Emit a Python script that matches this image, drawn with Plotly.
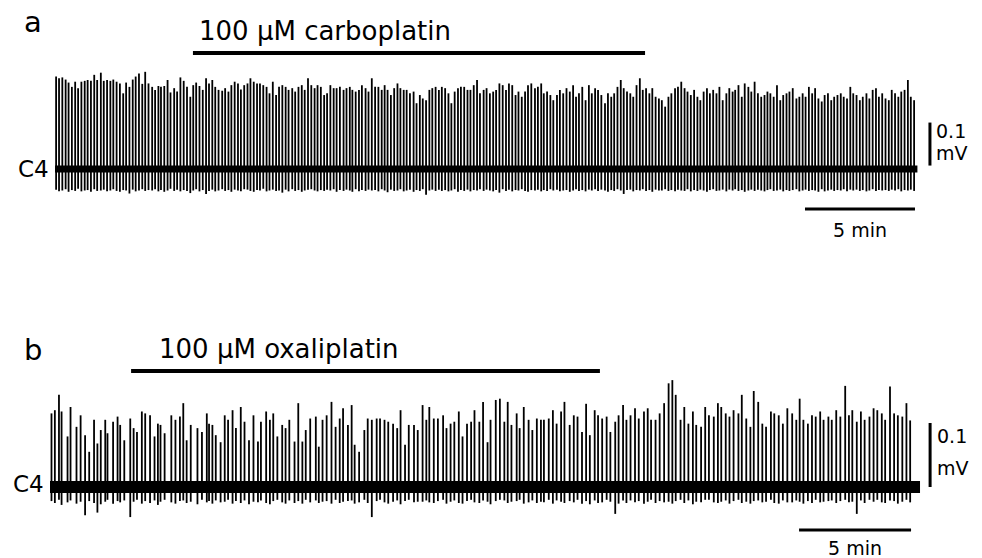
import numpy as np
import plotly.graph_objects as go

# ---------------- Recording a: C4 ventral root, carboplatin ----------------
# inter-burst intervals (s); first entry = delay from start of trace
isi_a_s = [
    3, 8, 9, 9, 8, 9, 9, 8, 9, 9,
    8, 9, 9, 8, 10, 8, 9, 9, 8, 9,
    9, 9, 8, 9, 9, 8, 9, 9, 8, 9,
    10, 8, 9, 7, 9, 9, 8, 10, 8, 9,
    9, 9, 9, 8, 8, 9, 9, 9, 8, 9,
    8, 9, 10, 8, 9, 8, 9, 9, 8, 9,
    9, 8, 9, 9, 8, 9, 9, 8, 9, 9,
    8, 9, 9, 8, 10, 8, 9, 9, 8, 9,
    9, 9, 8, 9, 9, 8, 9, 9, 8, 9,
    10, 8, 9, 7, 9, 9, 8, 10, 8, 9,
    9, 9, 9, 8, 8, 9, 9, 9, 8, 9,
    8, 9, 10, 8, 9, 8, 9, 9, 8, 9,
    9, 8, 9, 9, 8, 9, 9, 8, 9, 9,
    8, 9, 9, 8, 10, 8, 9, 9, 8, 9,
    9, 9, 8, 9, 9, 8, 9, 9, 8, 9,
    10, 8, 9, 7, 9, 9, 8, 10, 8, 9,
    9, 9, 9, 8, 8, 9, 9, 9, 8, 9,
    8, 9, 10, 8, 9, 8, 9, 9, 8, 9,
    9, 8, 9, 9, 8, 9, 9, 8, 9, 9,
    8, 9, 9, 8, 10, 8, 9, 9, 8, 9,
    9, 9, 8, 9, 9, 8, 9, 9, 8, 9,
    10, 8, 9, 7, 9, 9, 8, 10, 8, 9,
    9, 9, 9, 8, 8, 9, 9, 9, 8, 9,
    8, 9, 10, 8, 9, 8, 9, 9, 8, 9,
    9, 8, 9, 9, 8, 9, 9, 8, 9, 9,
    8, 9, 9, 8, 10, 8, 9, 9, 8, 9,
    9, 9, 8, 9, 9, 8, 9, 9, 8, 9,
]
# burst peak amplitude (uV)
amp_a_uV = [
    215, 211, 213, 208, 201, 191, 203, 188, 203, 205,
    207, 205, 219, 207, 224, 205, 207, 205, 208, 203,
    199, 176, 201, 191, 208, 215, 222, 198, 226, 199,
    191, 184, 193, 191, 193, 207, 178, 188, 180, 213,
    205, 191, 168, 195, 201, 193, 184, 211, 199, 207,
    191, 184, 182, 188, 180, 195, 203, 199, 185, 195,
    199, 211, 203, 199, 199, 195, 191, 176, 203, 172,
    191, 195, 191, 184, 188, 180, 191, 195, 184, 211,
    195, 188, 195, 191, 172, 176, 195, 188, 188, 191,
    184, 188, 191, 184, 180, 184, 195, 188, 180, 211,
    191, 191, 184, 195, 184, 172, 188, 199, 188, 184,
    184, 176, 180, 153, 172, 164, 160, 184, 188, 191,
    184, 191, 188, 176, 153, 180, 188, 191, 191, 184,
    184, 195, 207, 176, 184, 188, 176, 180, 184, 199,
    195, 184, 199, 195, 172, 180, 168, 180, 195, 199,
    188, 191, 199, 176, 180, 172, 160, 172, 184, 176,
    188, 180, 195, 168, 176, 191, 160, 195, 176, 188,
    184, 172, 153, 176, 168, 176, 191, 207, 188, 180,
    176, 168, 195, 211, 184, 188, 176, 188, 168, 164,
    160, 145, 168, 176, 188, 191, 203, 188, 180, 172,
    184, 168, 160, 180, 188, 176, 184, 176, 191, 160,
    176, 188, 180, 184, 195, 168, 199, 191, 180, 203,
    176, 168, 172, 180, 176, 168, 195, 160, 172, 176,
    180, 188, 164, 168, 176, 168, 191, 176, 188, 164,
    157, 172, 176, 160, 168, 172, 176, 168, 164, 191,
    176, 172, 160, 168, 176, 164, 184, 188, 168, 176,
    164, 160, 184, 176, 168, 180, 184, 207, 168, 160,
]
# after-hyperpolarising trough depth (uV)
trough_a_uV = [
    48, 52, 50, 47, 53, 49, 51, 46, 52, 50,
    49, 53, 47, 51, 50, 48, 52, 50, 47, 51,
    53, 49, 50, 57, 48, 52, 50, 47, 51, 49,
    50, 47, 52, 49, 53, 50, 46, 51, 48, 52,
    49, 51, 56, 50, 47, 52, 49, 58, 51, 48,
    52, 50, 47, 51, 49, 53, 48, 50, 52, 47,
    48, 51, 53, 49, 50, 46, 52, 50, 48, 51,
    50, 55, 48, 52, 47, 51, 49, 53, 50, 48,
    47, 50, 52, 49, 51, 48, 50, 47, 53, 49,
    51, 48, 50, 53, 47, 52, 49, 51, 48, 50,
    49, 52, 47, 50, 54, 48, 51, 50, 47, 52,
    50, 48, 53, 49, 51, 47, 60, 50, 48, 51,
    48, 51, 49, 52, 50, 47, 53, 49, 51, 48,
    52, 49, 50, 47, 51, 48, 50, 52, 49, 55,
    47, 51, 48, 52, 49, 50, 47, 51, 53, 49,
    50, 48, 52, 49, 51, 47, 50, 48, 52, 50,
    49, 53, 50, 47, 51, 49, 52, 48, 50, 47,
    51, 48, 50, 53, 49, 51, 47, 50, 58, 49,
    48, 52, 49, 50, 47, 51, 49, 53, 48, 50,
    50, 47, 51, 49, 52, 48, 50, 51, 47, 52,
    49, 51, 48, 50, 53, 49, 47, 51, 50, 48,
    52, 48, 50, 47, 51, 49, 53, 50, 48, 51,
    48, 50, 52, 49, 47, 51, 50, 48, 52, 49,
    51, 49, 47, 52, 50, 48, 51, 49, 50, 53,
    47, 52, 50, 48, 51, 49, 50, 47, 52, 48,
    50, 48, 51, 49, 52, 50, 47, 51, 49, 50,
    49, 51, 48, 50, 47, 52, 49, 50, 48, 51,
]
dur_a_min = 39.2
drug_a_min = [6.27, 26.82]
label_a = "100 \u03bcM carboplatin"

# ---------------- Recording b: C4 ventral root, oxaliplatin ----------------
isi_b_s = [
    4, 9, 11, 7, 16, 8, 16, 11, 12, 11,
    13, 9, 9, 12, 6, 15, 12, 7, 11, 16,
    9, 9, 13, 9, 13, 12, 9, 7, 11, 18,
    11, 12, 9, 9, 11, 18, 12, 13, 6, 9,
    9, 13, 11, 9, 12, 9, 13, 10, 12, 12,
    12, 8, 14, 10, 9, 11, 13, 9, 10, 14,
    10, 11, 9, 12, 15, 8, 10, 11, 13, 11,
    11, 9, 13, 10, 8, 12, 14, 9, 11, 13,
    9, 12, 10, 13, 11, 9, 12, 10, 14, 10,
    13, 10, 8, 12, 11, 14, 9, 11, 10, 12,
    10, 12, 11, 9, 13, 10, 12, 8, 14, 11,
    12, 9, 10, 14, 8, 11, 13, 10, 12, 11,
    8, 13, 11, 10, 12, 9, 14, 11, 10, 12,
    11, 10, 13, 9, 11, 12, 10, 13, 9, 12,
    9, 11, 12, 10, 14, 10, 9, 12, 11, 12,
    12, 10, 9, 13, 10, 11, 12, 9, 13, 11,
    10, 13, 11, 9, 12, 10, 11, 13, 9, 12,
    11, 9, 12, 11, 10, 13, 9, 12, 11, 12,
    13, 11, 9, 10, 12, 11, 10, 12, 9, 13,
    9, 12, 11, 13, 10, 9, 12, 11, 10, 13,
    11, 10, 12, 9, 13, 11, 10, 12, 11, 10,
]
amp_b_uV = [
    115, 120, 144, 118, 79, 125, 94, 112, 81, 55,
    105, 68, 89, 105, 84, 102, 110, 97, 73, 107,
    92, 86, 118, 115, 112, 79, 99, 97, 84, 112,
    105, 110, 131, 73, 97, 92, 86, 115, 99, 97,
    81, 70, 112, 105, 120, 92, 125, 102, 73, 112,
    71, 102, 118, 105, 115, 79, 97, 92, 105, 71,
    131, 71, 89, 107, 110, 63, 105, 112, 133, 94,
    107, 123, 97, 128, 66, 55, 89, 107, 105, 107,
    107, 105, 102, 99, 92, 120, 66, 97, 97, 89,
    128, 105, 125, 107, 107, 112, 92, 99, 102, 118,
    79, 99, 102, 120, 102, 133, 70, 105, 136, 138,
    102, 133, 97, 115, 92, 125, 105, 89, 107, 105,
    105, 107, 120, 99, 118, 133, 97, 112, 110, 86,
    130, 81, 120, 112, 107, 110, 86, 102, 112, 128,
    105, 112, 123, 107, 118, 123, 105, 105, 115, 131,
    162, 167, 144, 105, 125, 99, 118, 97, 94, 125,
    112, 110, 131, 125, 115, 110, 120, 115, 144, 107,
    94, 150, 133, 99, 94, 118, 115, 112, 99, 123,
    115, 105, 138, 105, 99, 112, 110, 118, 105, 110,
    105, 120, 110, 158, 112, 120, 102, 118, 105, 110,
    123, 120, 115, 105, 157, 115, 112, 110, 131, 104,
]
trough_b_uV = [
    22, 25, 20, 28, 24, 21, 26, 23, 44, 22,
    25, 40, 27, 23, 20, 26, 22, 24, 21, 47,
    23, 20, 26, 22, 25, 21, 28, 23, 20, 24,
    26, 22, 21, 25, 23, 27, 20, 24, 22, 26,
    21, 24, 23, 20, 26, 22, 25, 21, 27, 23,
    24, 21, 25, 27, 22, 20, 24, 26, 21, 25,
    22, 26, 20, 24, 21, 25, 23, 22, 26, 20,
    25, 23, 22, 21, 26, 24, 20, 25, 47, 22,
    20, 24, 26, 23, 21, 27, 22, 20, 24, 23,
    23, 21, 24, 25, 22, 20, 26, 23, 21, 25,
    26, 22, 20, 24, 25, 21, 23, 27, 22, 20,
    21, 25, 23, 22, 20, 26, 24, 21, 25, 23,
    24, 20, 26, 21, 23, 25, 22, 24, 20, 26,
    22, 27, 21, 25, 24, 20, 23, 42, 26, 21,
    25, 21, 24, 22, 26, 23, 20, 25, 22, 24,
    23, 26, 22, 20, 25, 21, 27, 23, 24, 20,
    20, 24, 25, 23, 21, 26, 22, 20, 25, 23,
    26, 22, 21, 24, 23, 20, 25, 26, 21, 24,
    24, 21, 23, 26, 22, 25, 20, 24, 23, 22,
    21, 25, 22, 20, 24, 23, 42, 21, 25, 20,
    23, 20, 24, 25, 21, 22, 26, 23, 20, 24,
]
dur_b_min = 38.84
drug_b_min = [3.62, 24.55]
label_b = "100 \u03bcM oxaliplatin"

# calibration
scale_t_min = 5
scale_v_mV = 0.1

FONT = "DejaVu Sans, Liberation Sans, Arial, sans-serif"
INK = "black"


def burst_segments(isi_s, amp_uV, trough_uV):
    """Vertical segments (trough -> peak) at each burst time, in min / mV."""
    times = np.cumsum(isi_s) / 60.0
    xs, ys = [], []
    for t, a, d in zip(times, amp_uV, trough_uV):
        xs += [t, t, None]
        ys += [-d / 1000.0, a / 1000.0, None]
    return xs, ys


fig = go.Figure()


def add_panel(xa, ya, isi, amp, trough, dur, band_w, drug, label,
              vbar_t, vbar_y0, hbar_t0, hbar_y, lab_dt, drug_lab_t, drug_lab_y,
              drug_bar_y, min_lab_y, c4_y):
    # baseline noise band
    fig.add_trace(go.Scatter(x=[0, dur], y=[0, 0], mode="lines",
                             line=dict(color=INK, width=band_w),
                             xaxis=xa, yaxis=ya, hoverinfo="skip"))
    xs, ys = burst_segments(isi, amp, trough)
    fig.add_trace(go.Scatter(x=xs, y=ys, mode="lines",
                             line=dict(color=INK, width=1.8),
                             xaxis=xa, yaxis=ya, hoverinfo="skip"))
    # drug application bar
    fig.add_trace(go.Scatter(x=drug, y=[drug_bar_y, drug_bar_y], mode="lines",
                             line=dict(color=INK, width=4),
                             xaxis=xa, yaxis=ya, hoverinfo="skip"))
    # calibration bars
    fig.add_trace(go.Scatter(x=[vbar_t, vbar_t], y=[vbar_y0, vbar_y0 + scale_v_mV],
                             mode="lines", line=dict(color=INK, width=3),
                             xaxis=xa, yaxis=ya, hoverinfo="skip"))
    fig.add_trace(go.Scatter(x=[hbar_t0, hbar_t0 + scale_t_min], y=[hbar_y, hbar_y],
                             mode="lines", line=dict(color=INK, width=3),
                             xaxis=xa, yaxis=ya, hoverinfo="skip"))
    xref = xa.replace("axis", "")
    yref = ya.replace("axis", "")
    ann = [
        dict(text=label, x=drug_lab_t, y=drug_lab_y, xanchor="left", yanchor="middle",
             font=dict(size=26)),
        dict(text="C4", x=-0.18, y=c4_y, xanchor="right", yanchor="middle",
             font=dict(size=23)),
        dict(text=f"{scale_v_mV:g}", x=vbar_t + lab_dt, y=vbar_y0 + 0.8 * scale_v_mV,
             xanchor="left", yanchor="middle", font=dict(size=19)),
        dict(text="mV", x=vbar_t + lab_dt, y=vbar_y0 + 0.3 * scale_v_mV,
             xanchor="left", yanchor="middle", font=dict(size=19)),
        dict(text=f"{scale_t_min} min", x=hbar_t0 + scale_t_min / 2, y=min_lab_y,
             xanchor="center", yanchor="middle", font=dict(size=19)),
    ]
    for a in ann:
        a.update(xref=xref, yref=yref, showarrow=False)
        a["font"].update(family=FONT, color=INK)
        fig.add_annotation(**a)


add_panel("x", "y", isi_a_s, amp_a_uV, trough_a_uV, dur_a_min, 7, drug_a_min, label_a,
          vbar_t=39.77, vbar_y0=0.008, hbar_t0=34.09, hbar_y=-0.093, lab_dt=0.2,
          drug_lab_t=6.45, drug_lab_y=0.321, drug_bar_y=0.270, min_lab_y=-0.142,
          c4_y=0.0)
add_panel("x2", "y2", isi_b_s, amp_b_uV, trough_b_uV, dur_b_min, 12, drug_b_min, label_b,
          vbar_t=39.29, vbar_y0=0.0, hbar_t0=33.44, hbar_y=-0.0672, lab_dt=0.2,
          drug_lab_t=4.78, drug_lab_y=0.2156, drug_bar_y=0.18125, min_lab_y=-0.0953,
          c4_y=0.005)

# panel letters
for letter, py in (("a", 22), ("b", 350)):
    fig.add_annotation(text=letter, x=33 / 982, y=1 - py / 558, xref="paper", yref="paper",
                       xanchor="center", yanchor="middle", showarrow=False,
                       font=dict(family=FONT, size=29, color=INK))

hidden = dict(visible=False, showgrid=False, zeroline=False, fixedrange=True)
fig.update_layout(
    width=982, height=558,
    margin=dict(l=0, r=0, t=0, b=0),
    paper_bgcolor="white", plot_bgcolor="white",
    showlegend=False,
    xaxis=dict(hidden, domain=[0, 1], range=[-2.5, 42.136], anchor="y"),
    yaxis=dict(hidden, domain=[0.5, 1], range=[-0.25581, 0.39302], anchor="x"),
    xaxis2=dict(hidden, domain=[0, 1], range=[-2.232, 41.607], anchor="y2"),
    yaxis2=dict(hidden, domain=[0, 0.5], range=[-0.11094, 0.325], anchor="x2"),
)

fig.write_html("out.html")
